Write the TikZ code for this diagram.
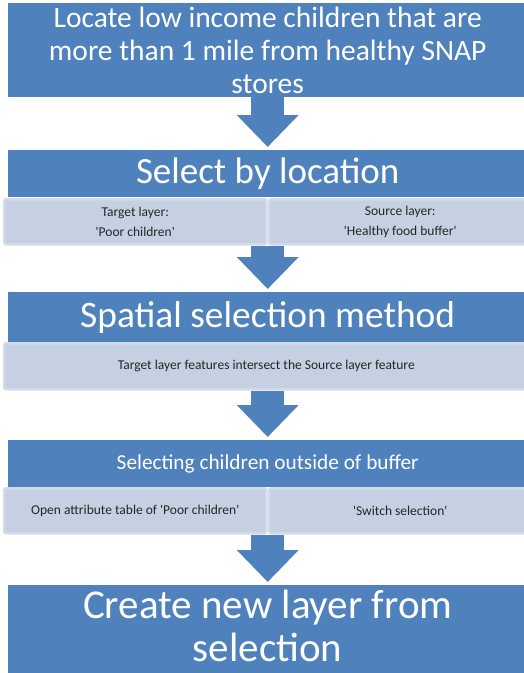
\documentclass[tikz,border=0pt]{standalone}
\usepackage{fontspec}
\setmainfont{Carlito}[Ligatures=TeXOff]
\usetikzlibrary{arrows.meta,positioning}
\definecolor{stepblue}{RGB}{79,129,189}
\definecolor{subfill}{RGB}{197,208,227}
\definecolor{subedge}{RGB}{210,218,234}

\begin{document}
\begin{tikzpicture}[x=1pt, y=-1pt, hd/.style={fill=stepblue, text=white,
				inner sep=0pt, minimum width=519pt, anchor=north west, align=center},
				sb/.style={fill=subfill, draw=subedge, line width=2.5pt, rounded
				corners=2pt, inner sep=0pt, minimum width=262pt, minimum height=45pt,
				anchor=north west, align=center, text=black!85,
				font=\fontsize{13.5}{20}\selectfont}, dn/.style={draw=stepblue, line
				width=33pt, -{Triangle[width=60pt,length=32pt]}, shorten >=3pt}]
				\useasboundingbox (0,0) rectangle (523,673);

				\node[hd, minimum height=94pt, font=\fontsize{29.5}{33}\selectfont]
				(locate) at (8,3) {Locate low income children that are\\ more than
				1 mile from healthy SNAP\\ stores};

				\node[hd, minimum height=47pt, font=\fontsize{37}{40}\selectfont]
				(select) at (8,150) {Select by location};
				\node[sb] (target) at (3,198) {Target layer:\\'Poor children'};
				\node[sb] (source) at (268,198) {Source layer:\\'Healthy food buffer'};

				\node[hd, minimum height=50pt, font=\fontsize{37.4}{40}\selectfont]
				(spatial) at (8,292) {Spatial selection method};
				\node[sb, minimum width=524pt, minimum height=46pt] (intersect) at
				(3,342) {Target layer features intersect the Source layer feature};

				\node[hd, minimum height=47pt, font=\fontsize{21.3}{26}\selectfont]
				(outside) at (8,440) {Selecting children outside of buffer};
				\node[sb] (table) at (3,487) {Open attribute table of 'Poor children'};
				\node[sb] (switch) at (268,487) {'Switch selection'};

				\node[hd, minimum height=95pt, label={[text=white, align=center,
				yshift=7pt, font=\fontsize{41}{43}\selectfont]center:{Create new
				layer from\\selection}}] (create) at (8,585) {};

			\draw[dn] (locate.south) -- (select.north);
			\draw[dn] (select.south |- target.south) -- (spatial.north);
			\draw[dn] (spatial.south |- intersect.south) -- (outside.north);
			\draw[dn] (outside.south |- table.south) -- (create.north);
		\end{tikzpicture}
\end{document}
